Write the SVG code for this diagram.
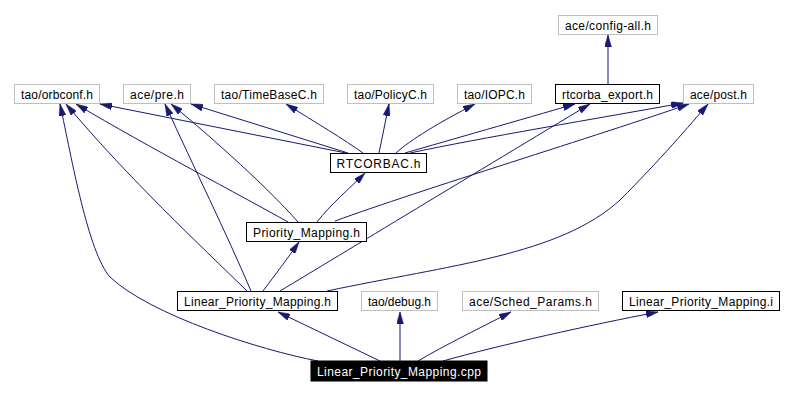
<svg xmlns="http://www.w3.org/2000/svg" width="793" height="395" viewBox="0 0 793 395">
  <style>
    .box { fill: #ffffff; stroke: #000000; stroke-width: 1; }
    .ext { fill: #ffffff; stroke: #bfbfbf; stroke-width: 1; }
    .root { fill: #000000; stroke: #000000; stroke-width: 1; }
    .lbl { font-family: "Liberation Sans", Arial, Helvetica, sans-serif; font-size: 12px; fill: #000000; text-anchor: middle; }
    .lbl-inv { fill: #ffffff; }
    .edge { fill: none; stroke: #191970; stroke-width: 1; marker-end: url(#arrow); }
  </style>
  <defs>
    <marker id="arrow" viewBox="0 0 12 7" refX="12" refY="3.5" markerWidth="12" markerHeight="7" markerUnits="userSpaceOnUse" orient="auto">
      <path d="M0,0 L12,3.5 L0,7 z" fill="#191970" stroke="#191970" stroke-width="0.5"/>
    </marker>
  </defs>
  <rect width="793" height="395" fill="#ffffff"/>

  <!-- include dependencies -->
  <g id="edges">
    <path class="edge" d="M608,84 L608,35"/>
    <path class="edge" d="M346,153 L100,104"/>
    <path class="edge" d="M348,153 L191,104"/>
    <path class="edge" d="M363,153 C345,140 315,122 286,104"/>
    <path class="edge" d="M379,153 L389,104"/>
    <path class="edge" d="M396,153 C410,140 440,122 475,104"/>
    <path class="edge" d="M405,153 C450,140 520,120 575,104"/>
    <path class="edge" d="M410,153 C480,138 600,118 683,103"/>
    <path class="edge" d="M317,222 C330,205 350,188 365,173"/>
    <path class="edge" d="M288,222 C240,195 150,148 76,104"/>
    <path class="edge" d="M298,222 C270,190 215,140 171,104"/>
    <path class="edge" d="M335,221 C420,190 600,135 689,104"/>
    <path class="edge" d="M247,291 C200,245 130,180 66,104"/>
    <path class="edge" d="M251,291 C225,230 195,170 165,104"/>
    <path class="edge" d="M263,291 C275,275 288,258 299,242"/>
    <path class="edge" d="M280,291 C340,255 480,170 590,104"/>
    <path class="edge" d="M327,291 C450,265 560,255 620,200 C660,160 690,125 708,104"/>
    <path class="edge" d="M318,361 C260,350 150,315 110,277 C88,252 72,160 60,104"/>
    <path class="edge" d="M380,361 L278,312"/>
    <path class="edge" d="M400,361 L400,312"/>
    <path class="edge" d="M418,361 C445,345 480,328 511,312"/>
    <path class="edge" d="M443,361 C500,345 590,325 658,312"/>
  </g>

  <g id="node-config-all">
    <rect class="ext" x="558.5" y="15.5" width="99" height="19"/>
    <text class="lbl" x="608" y="29.5" textLength="86" lengthAdjust="spacing">ace/config-all.h</text>
  </g>
  <g id="node-orbconf">
    <rect class="ext" x="14.5" y="84.5" width="85" height="19"/>
    <text class="lbl" x="57" y="98.5" textLength="72" lengthAdjust="spacing">tao/orbconf.h</text>
  </g>
  <g id="node-pre">
    <rect class="ext" x="123.5" y="84.5" width="67" height="19"/>
    <text class="lbl" x="157" y="98.5" textLength="54" lengthAdjust="spacing">ace/pre.h</text>
  </g>
  <g id="node-timebasec">
    <rect class="ext" x="214.5" y="84.5" width="109" height="19"/>
    <text class="lbl" x="269" y="98.5" textLength="96" lengthAdjust="spacing">tao/TimeBaseC.h</text>
  </g>
  <g id="node-policyc">
    <rect class="ext" x="347.5" y="84.5" width="86" height="19"/>
    <text class="lbl" x="390.5" y="98.5" textLength="73" lengthAdjust="spacing">tao/PolicyC.h</text>
  </g>
  <g id="node-iopc">
    <rect class="ext" x="457.5" y="84.5" width="74" height="19"/>
    <text class="lbl" x="494.5" y="98.5" textLength="61" lengthAdjust="spacing">tao/IOPC.h</text>
  </g>
  <g id="node-rtcorba-export">
    <rect class="box" x="555.5" y="84.5" width="104" height="19"/>
    <text class="lbl" x="607.5" y="98.5" textLength="91" lengthAdjust="spacing">rtcorba_export.h</text>
  </g>
  <g id="node-post">
    <rect class="ext" x="683.5" y="84.5" width="70" height="19"/>
    <text class="lbl" x="718.5" y="98.5" textLength="57" lengthAdjust="spacing">ace/post.h</text>
  </g>
  <g id="node-rtcorbac">
    <rect class="box" x="330.5" y="153.5" width="96" height="19"/>
    <text class="lbl" x="378.5" y="167.5" textLength="84" lengthAdjust="spacing">RTCORBAC.h</text>
  </g>
  <g id="node-priority-mapping">
    <rect class="box" x="246.5" y="222.5" width="120" height="19"/>
    <text class="lbl" x="306.5" y="236.5" textLength="107" lengthAdjust="spacing">Priority_Mapping.h</text>
  </g>
  <g id="node-linear-priority-mapping-h">
    <rect class="box" x="177.5" y="291.5" width="160" height="19"/>
    <text class="lbl" x="257.5" y="305.5" textLength="147" lengthAdjust="spacing">Linear_Priority_Mapping.h</text>
  </g>
  <g id="node-debug">
    <rect class="ext" x="361.5" y="291.5" width="76" height="19"/>
    <text class="lbl" x="399.5" y="305.5" textLength="63" lengthAdjust="spacing">tao/debug.h</text>
  </g>
  <g id="node-sched-params">
    <rect class="ext" x="462.5" y="291.5" width="136" height="19"/>
    <text class="lbl" x="530.5" y="305.5" textLength="123" lengthAdjust="spacing">ace/Sched_Params.h</text>
  </g>
  <g id="node-linear-priority-mapping-i">
    <rect class="box" x="622.5" y="291.5" width="157" height="19"/>
    <text class="lbl" x="701" y="305.5" textLength="144" lengthAdjust="spacing">Linear_Priority_Mapping.i</text>
  </g>
  <g id="node-linear-priority-mapping-cpp">
    <rect class="root" x="311" y="361" width="176" height="20"/>
    <text class="lbl lbl-inv" x="399" y="376" textLength="164" lengthAdjust="spacing">Linear_Priority_Mapping.cpp</text>
  </g>
</svg>
